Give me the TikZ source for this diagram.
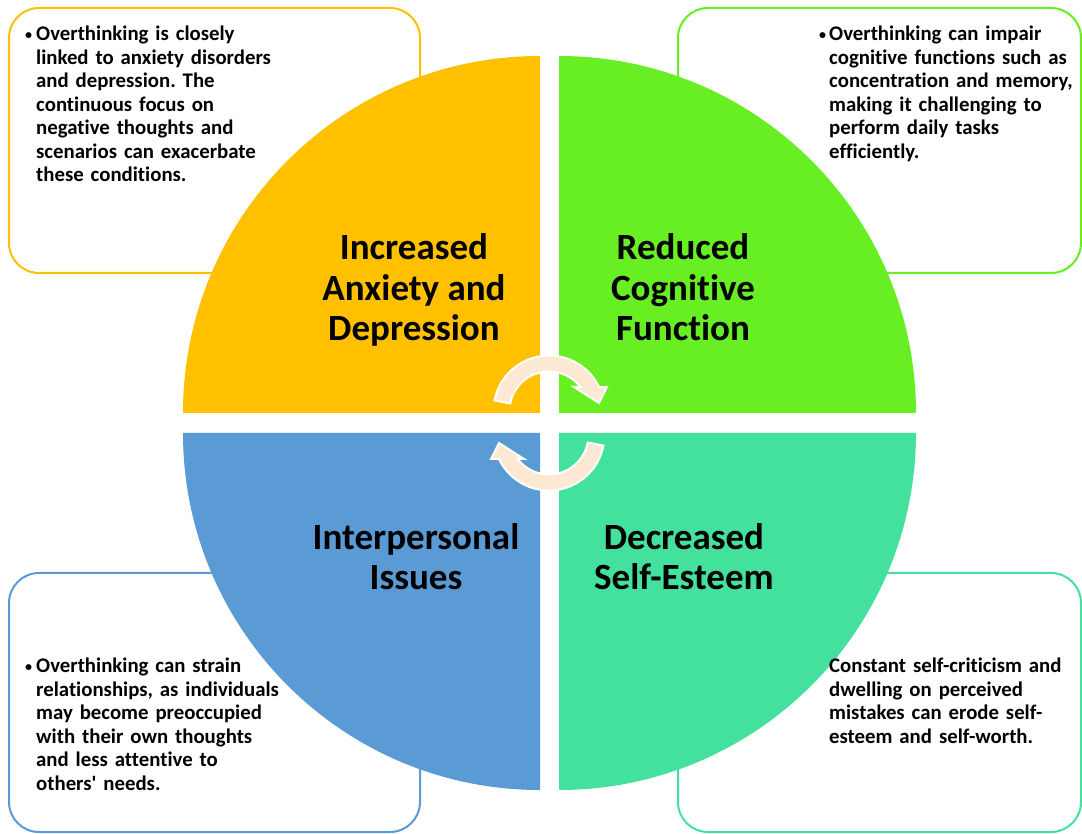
\documentclass[tikz,border=0pt]{standalone}
\usepackage{fontspec}
\setmainfont{Carlito}[Ligatures=NoCommon]
\newfontfamily\plainfam{Carlito}[Ligatures=NoCommon]
\definecolor{qor}{HTML}{FFC000}
\definecolor{qgr}{HTML}{67EF23}
\definecolor{qbl}{HTML}{5B9BD5}
\definecolor{qte}{HTML}{43E19D}
\definecolor{peach}{HTML}{FDE8D4}
\newcommand{\bul}[1]{\makebox[#1][l]{\raisebox{1.5pt}{\fontsize{14}{14}\selectfont •}}}
\begin{document}
\begin{tikzpicture}[x=1pt,y=1pt,
  boxline/.style={line width=2pt, rounded corners=30pt},
  title/.style={align=center, inner sep=0pt, font=\fontsize{37}{40.5}\selectfont\bfseries},
  desc/.style={text width=380pt, align=left, inner sep=0pt, font=\fontsize{20.8}{23.5}\selectfont\bfseries\frenchspacing},
  cyc/.style={fill=peach, draw=white, line width=2pt, line join=miter}]
\useasboundingbox (0,0) rectangle (1082,833);
\fill[white] (0,0) rectangle (1082,833);
% description boxes
\draw[boxline, draw=qor] (9,560) rectangle (420,825);
\draw[boxline, draw=qgr] (678,560) rectangle (1081,825);
\draw[boxline, draw=qbl] (9,1) rectangle (420,260);
\draw[boxline, draw=qte] (678,1) rectangle (1081,260);
% quadrants
\fill[qor] (540,420) -- ++(180:357) arc[start angle=180,end angle=90,radius=357] -- cycle;
\fill[qgr] (559,420) -- ++(0:357) arc[start angle=0,end angle=90,radius=357] -- cycle;
\fill[qbl] (540,400) -- ++(180:357) arc[start angle=180,end angle=270,radius=357] -- cycle;
\fill[qte] (559,400) -- ++(0:357) arc[start angle=0,end angle=-90,radius=357] -- cycle;
% circular arrows
\begin{scope}[shift={(549,422)}]
\filldraw[cyc] (169:55.5) arc[start angle=169,end angle=25.6,radius=55.5] -- (58,24) -- (50,8) -- (25,24) -- (37.4:39.5) arc[start angle=37.4,end angle=169,radius=39.5] -- cycle;
\end{scope}
\begin{scope}[shift={(549,398)}, rotate=180]
\filldraw[cyc] (169:55.5) arc[start angle=169,end angle=25.6,radius=55.5] -- (58,24) -- (50,8) -- (25,24) -- (37.4:39.5) arc[start angle=37.4,end angle=169,radius=39.5] -- cycle;
\end{scope}
% titles (anchor = baseline of last line)
\node[title, anchor=base] (t1) at (414,492) {Increased\\Anxiety and\\Depression};
\node[title, anchor=base] (t2) at (683,492) {Reduced\\Cognitive\\Function};
\node[title, anchor=base] (t3) at (416,243) {Interpersonal\\Issues};
\node[title, anchor=base] (t4) at (684,243) {Decreased\\Self-Esteem};
% descriptions (anchor = baseline of first line)
\node[desc, anchor=base west] (d1) at (25,792) {\noindent\hangindent=11pt\hangafter=1\bul{11pt}Overthinking is closely\newline linked to anxiety disorders\newline and depression. The\newline continuous focus on\newline negative thoughts and\newline scenarios can exacerbate\newline these conditions.\par};
\node[desc, anchor=base west] (d2) at (819,792) {\noindent\hangindent=10pt\hangafter=1\bul{10pt}Overthinking can impair\newline cognitive functions such as\newline concentration and memory,\newline making it challenging to\newline perform daily tasks\newline efficiently.\par};
\node[desc, anchor=base west] (d3) at (25,160) {\noindent\hangindent=11pt\hangafter=1\bul{11pt}Overthinking can strain\newline relationships, as individuals\newline may become preoccupied\newline with their own thoughts\newline and less attentive to\newline others{\plainfam'} needs.\par};
\node[desc, anchor=base west] (d4) at (829,160) {Constant self-criticism and\newline dwelling on perceived\newline mistakes can erode self-\newline esteem and self-worth.\par};
\end{tikzpicture}
\end{document}
